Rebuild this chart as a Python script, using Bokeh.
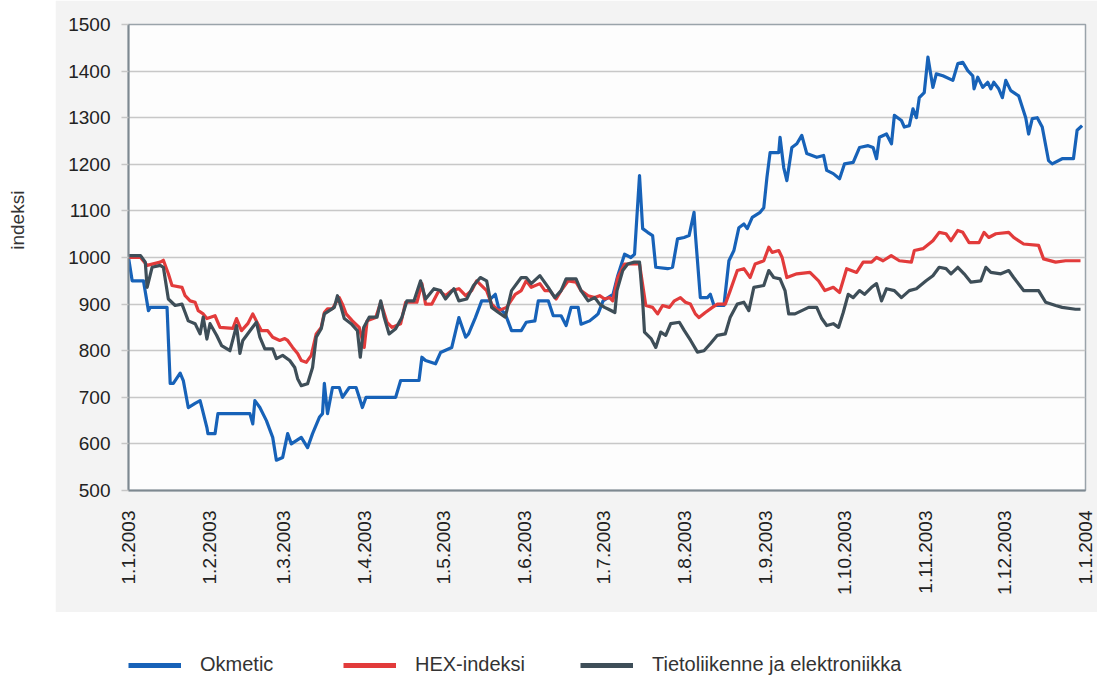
from math import pi
from bokeh.plotting import figure
from bokeh.models import Range1d, FixedTicker, Label, Legend, LegendItem
from bokeh.layouts import column, row
from bokeh.embed import file_html
from bokeh.resources import INLINE

# ---------------- data ----------------
month_days = [0, 31, 59, 90, 120, 151, 181, 212, 243, 273, 304, 334, 365]
month_labels = ["1.1.2003", "1.2.2003", "1.3.2003", "1.4.2003", "1.5.2003", "1.6.2003",
                "1.7.2003", "1.8.2003", "1.9.2003", "1.10.2003", "1.11.2003", "1.12.2003",
                "1.1.2004"]
y_ticks = [500, 600, 700, 800, 900, 1000, 1100, 1200, 1300, 1400, 1500]

series_names = ["Okmetic", "HEX-indeksi", "Tietoliikenne ja elektroniikka"]

# days since 1.1.2003
okm_days = [0, 1.4, 5.7, 7.6, 8.3, 14.7, 15.9, 17.1, 19.7, 20.9,
            22.8, 25.4, 27.3, 28.0, 29.9, 30.3, 33.0, 34.1, 35.5, 46.3,
            47.4, 48.2, 50.1, 52.6, 55.0, 56.4, 58.8, 60.7, 62.1, 64.0,
            65.9, 68.3, 70.2, 72.8, 74.0, 74.7, 75.9, 77.8, 80.4, 81.6,
            84.2, 86.8, 88.0, 89.2, 90.6, 101.9, 103.8, 110.8, 111.9, 113.3,
            117.1, 119.0, 123.3, 126.0, 128.6, 129.7, 132.3, 134.7, 137.3, 139.9,
            141.1, 143.7, 146.1, 149.8, 151.7, 155.0, 156.3, 160.1, 162.0, 165.0,
            166.9, 168.8, 171.5, 172.6, 175.9, 178.3, 179.1, 181.0, 184.8, 186.6,
            189.2, 191.6, 193.0, 194.9, 196.1, 198.0, 199.9, 201.1, 205.6, 207.5,
            209.4, 211.9, 213.8, 215.7, 216.2, 218.1, 220.8, 221.9, 223.3, 227.1,
            229.0, 230.9, 232.8, 234.7, 236.0, 237.9, 240.9, 242.3, 243.5, 244.7,
            248.0, 248.5, 249.9, 251.1, 253.0, 254.9, 256.8, 258.7, 262.5, 265.1,
            266.3, 268.8, 271.2, 273.1, 276.4, 278.8, 282.1, 284.0, 285.3, 286.4,
            289.1, 291.0, 292.1, 294.8, 295.9, 297.8, 299.2, 300.5, 301.6, 303.5,
            304.9, 306.8, 308.1, 310.6, 314.4, 316.3, 318.2, 320.1, 322.0, 322.5,
            323.9, 325.8, 327.7, 328.9, 330.0, 331.9, 333.3, 334.6, 336.5, 339.5,
            342.2, 343.3, 344.7, 346.6, 348.5, 350.9, 352.3, 356.1, 360.4, 361.8,
            363.7]
okm_vals = [1000, 950, 950, 886, 893, 893, 730, 730, 752, 736,
            678, 687, 693, 678, 635, 622, 622, 665, 665, 665,
            643, 693, 678, 650, 614, 565, 571, 622, 600, 607,
            614, 592, 622, 657, 665, 730, 665, 721, 721, 700,
            721, 721, 700, 678, 700, 700, 736, 736, 786, 779,
            772, 796, 807, 871, 829, 836, 871, 907, 907, 921,
            893, 879, 843, 843, 861, 864, 907, 907, 875, 875,
            854, 893, 893, 857, 864, 875, 879, 907, 921, 961,
            1007, 1000, 1007, 1176, 1062, 1054, 1047, 979, 976, 979,
            1040, 1043, 1047, 1097, 1051, 914, 914, 921, 897, 897,
            993, 1015, 1064, 1072, 1062, 1086, 1097, 1107, 1172, 1225,
            1225, 1258, 1193, 1165, 1236, 1244, 1262, 1223, 1215, 1219,
            1187, 1180, 1169, 1201, 1204, 1236, 1240, 1236, 1212, 1258,
            1265, 1244, 1305, 1294, 1280, 1283, 1319, 1300, 1343, 1354,
            1430, 1365, 1394, 1390, 1380, 1416, 1419, 1401, 1390, 1362,
            1387, 1365, 1376, 1362, 1376, 1362, 1343, 1380, 1358, 1347,
            1300, 1265, 1298, 1300, 1280, 1208, 1201, 1212, 1212, 1273,
            1283]

hex_days = [0, 4.6, 7.1, 12.1, 13.3, 15.2, 16.6, 20.4, 21.6, 23.5,
            25.4, 26.6, 28.5, 29.9, 33.0, 34.9, 39.8, 41.2, 43.1, 45.5,
            47.4, 49.3, 50.7, 53.1, 55.0, 57.7, 59.6, 60.7, 62.6, 64.5,
            65.9, 67.8, 69.7, 71.6, 73.5, 74.7, 75.9, 77.8, 79.2, 80.4,
            81.6, 83.0, 85.4, 88.0, 89.9, 91.0, 94.3, 96.2, 98.6, 100.5,
            103.8, 105.7, 110.0, 111.9, 113.3, 115.7, 118.4, 120.9, 123.3, 126.0,
            128.6, 130.9, 132.8, 136.6, 138.5, 141.1, 144.2, 147.5, 149.8, 151.7,
            153.6, 156.9, 158.8, 160.7, 163.1, 165.0, 167.7, 170.7, 172.6, 175.3,
            177.8, 179.7, 181.6, 183.5, 184.7, 186.6, 189.2, 194.9, 197.3, 199.9,
            201.8, 203.7, 206.3, 208.2, 210.5, 212.4, 214.3, 216.2, 217.6, 220.0,
            222.7, 224.6, 227.6, 229.5, 232.2, 234.7, 237.1, 239.0, 242.3, 244.2,
            245.5, 248.0, 249.3, 251.1, 254.9, 259.9, 263.2, 265.6, 268.8, 271.2,
            273.9, 277.7, 280.2, 283.4, 285.3, 287.8, 290.9, 294.0, 298.6, 299.7,
            303.0, 306.8, 309.2, 311.8, 313.7, 316.3, 318.2, 320.6, 324.4, 326.3,
            328.1, 330.8, 335.7, 337.6, 341.4, 347.1, 349.0, 353.6, 357.4, 363.1]
hex_vals = [1000, 1000, 983, 990, 994, 965, 940, 936, 918, 907,
            904, 886, 879, 869, 875, 850, 848, 869, 843, 858,
            879, 858, 843, 843, 829, 822, 826, 822, 807, 794,
            779, 775, 790, 836, 850, 882, 890, 890, 904, 914,
            900, 879, 864, 850, 807, 864, 871, 904, 861, 850,
            858, 904, 904, 944, 900, 900, 929, 918, 929, 933,
            918, 929, 950, 929, 900, 886, 893, 921, 929, 950,
            936, 944, 929, 929, 911, 929, 950, 947, 929, 918,
            914, 918, 911, 914, 907, 957, 986, 986, 897, 893,
            879, 897, 893, 907, 914, 904, 900, 879, 871, 882,
            893, 900, 900, 929, 972, 976, 957, 986, 993, 1022,
            1011, 1015, 1000, 957, 965, 968, 950, 929, 936, 925,
            976, 968, 990, 990, 1000, 993, 1004, 993, 990, 1015,
            1019, 1036, 1054, 1051, 1036, 1058, 1054, 1032, 1032, 1054,
            1043, 1051, 1054, 1043, 1029, 1026, 997, 990, 993, 993]

tel_days = [0, 4.6, 6.4, 7.1, 9.0, 12.1, 13.3, 15.2, 17.8, 20.4,
            21.6, 22.8, 25.4, 27.3, 28.5, 29.9, 31.1, 33.6, 35.5, 38.7,
            41.2, 42.5, 43.6, 46.9, 48.8, 50.1, 52.0, 55.0, 56.4, 58.8,
            61.5, 63.4, 64.5, 65.9, 68.3, 70.2, 71.6, 73.5, 74.7, 76.6,
            78.5, 79.7, 81.1, 82.3, 84.9, 87.3, 88.4, 89.7, 91.8, 94.8,
            96.2, 97.5, 99.4, 101.9, 104.3, 106.2, 108.9, 111.4, 113.3, 116.5,
            119.0, 120.9, 124.1, 126.0, 129.0, 131.6, 134.2, 136.6, 138.5, 141.1,
            143.7, 146.1, 149.8, 151.7, 153.6, 156.9, 160.1, 162.6, 165.0, 166.9,
            170.7, 172.6, 175.3, 177.8, 179.7, 181.6, 183.1, 185.5, 186.3, 188.5,
            190.4, 192.9, 194.9, 196.1, 196.8, 199.3, 201.1, 203.0, 204.9, 206.8,
            210.1, 212.0, 214.4, 217.0, 219.5, 221.9, 224.6, 227.6, 229.5, 232.2,
            234.7, 236.6, 238.5, 242.3, 244.2, 246.1, 248.5, 250.4, 251.8, 254.2,
            259.4, 262.5, 264.4, 266.3, 268.8, 270.8, 272.6, 274.5, 276.4, 278.8,
            280.7, 283.4, 285.3, 287.2, 289.1, 292.1, 294.8, 297.8, 300.5, 304.2,
            306.8, 309.2, 311.8, 313.7, 316.3, 318.7, 321.3, 325.1, 327.0, 328.9,
            332.7, 335.7, 337.6, 341.4, 347.1, 349.8, 353.6, 356.1, 361.2, 363.1]
tel_vals = [1004, 1004, 990, 936, 979, 983, 979, 911, 897, 900,
            882, 864, 858, 836, 872, 825, 858, 833, 811, 800,
            854, 794, 822, 847, 861, 829, 804, 804, 783, 790,
            779, 764, 740, 725, 729, 764, 829, 847, 879, 886,
            893, 918, 893, 869, 858, 843, 786, 850, 872, 872,
            907, 872, 836, 847, 872, 907, 907, 950, 911, 933,
            929, 911, 933, 907, 911, 940, 957, 950, 893, 882,
            872, 929, 957, 957, 944, 961, 936, 914, 929, 954,
            954, 929, 907, 914, 900, 893, 889, 882, 929, 972,
            986, 990, 990, 907, 840, 826, 807, 840, 833, 858,
            861, 843, 822, 797, 800, 815, 833, 836, 872, 900,
            904, 886, 936, 940, 972, 957, 954, 929, 879, 879,
            893, 893, 869, 854, 858, 850, 882, 921, 914, 929,
            921, 936, 944, 907, 933, 929, 914, 929, 933, 950,
            961, 979, 976, 965, 979, 965, 947, 950, 979, 968,
            965, 972, 957, 929, 929, 904, 897, 893, 889, 889]

colors = ["#1762b8", "#e23b3b", "#3e4e58"]

# ---------------- styles ----------------
FONT = "Liberation Sans"
PANEL = "#f3f3f3"

# ---------------- main chart ----------------
p = figure(width=1042, height=612, x_range=Range1d(0, 365), y_range=Range1d(500, 1500),
           output_backend="svg", toolbar_location=None,
           min_border_left=73, min_border_right=12, min_border_top=24, min_border_bottom=122)
p.border_fill_color = PANEL
p.background_fill_color = "#fdfdfd"
p.outline_line_color = "#9aa3aa"
p.outline_line_width = 1.5

p.xaxis.ticker = FixedTicker(ticks=month_days)
p.xaxis.major_label_overrides = {d: l for d, l in zip(month_days, month_labels)}
p.xaxis.major_label_orientation = pi / 2
p.yaxis.ticker = FixedTicker(ticks=y_ticks)

for ax in (p.xaxis, p.yaxis):
    ax.axis_line_color = "#7d8890"
    ax.axis_line_width = 2
    ax.minor_tick_line_color = None
    ax.major_label_text_font = FONT
    ax.major_label_text_font_size = "19px"
    ax.major_label_text_color = "#222222"
p.xaxis.major_tick_line_color = None
p.xaxis.major_label_standoff = 14
p.yaxis.major_tick_line_color = "#c6c6c6"
p.yaxis.major_tick_line_width = 1.5
p.yaxis.major_tick_out = 7
p.yaxis.major_tick_in = 0
p.yaxis.major_label_standoff = 11

p.xgrid.grid_line_color = None
p.ygrid.grid_line_color = "#c8c8c8"
p.ygrid.grid_line_width = 1.5

for d, v, c in zip([okm_days, hex_days, tel_days], [okm_vals, hex_vals, tel_vals], colors):
    p.line(d, v, line_color=c, line_width=3.2, line_join="round")

# ---------------- y-axis title column ----------------
lf = figure(width=55, height=612, x_range=Range1d(0, 55), y_range=Range1d(0, 612),
            output_backend="svg", toolbar_location=None,
            min_border_left=0, min_border_right=0, min_border_top=0, min_border_bottom=0)
lf.axis.visible = False
lf.grid.visible = False
lf.outline_line_color = None
lf.border_fill_color = "white"
lf.background_fill_color = "white"
lf.add_layout(Label(x=17, y=355, text="indeksi", angle=pi / 2, text_align="center",
                    text_baseline="middle", text_font=FONT, text_font_size="19px",
                    text_color="#333333"))

# ---------------- legend strip ----------------
lg = figure(width=1097, height=66, x_range=Range1d(0, 1097), y_range=Range1d(0, 66),
            output_backend="svg", toolbar_location=None,
            min_border_left=0, min_border_right=0, min_border_top=0, min_border_bottom=0)
lg.axis.visible = False
lg.grid.visible = False
lg.outline_line_color = None
lg.border_fill_color = "white"
lg.background_fill_color = "white"

legend_x = [128, 343, 580]
for name, c, lx in zip(series_names, colors, legend_x):
    r = lg.line([-10, -5], [-10, -10], line_color=c, line_width=5)
    leg = Legend(items=[LegendItem(label=name, renderers=[r])], location=(lx, 2),
                 orientation="horizontal", glyph_width=53, glyph_height=20,
                 label_standoff=19, padding=0, margin=0, border_line_color=None,
                 background_fill_alpha=0, label_text_font=FONT,
                 label_text_font_size="20px", label_text_color="#333333",
                 label_height=20)
    lg.add_layout(leg)

layout = column(row(lf, p), lg)
open("out.html", "w").write(file_html(layout, INLINE))
